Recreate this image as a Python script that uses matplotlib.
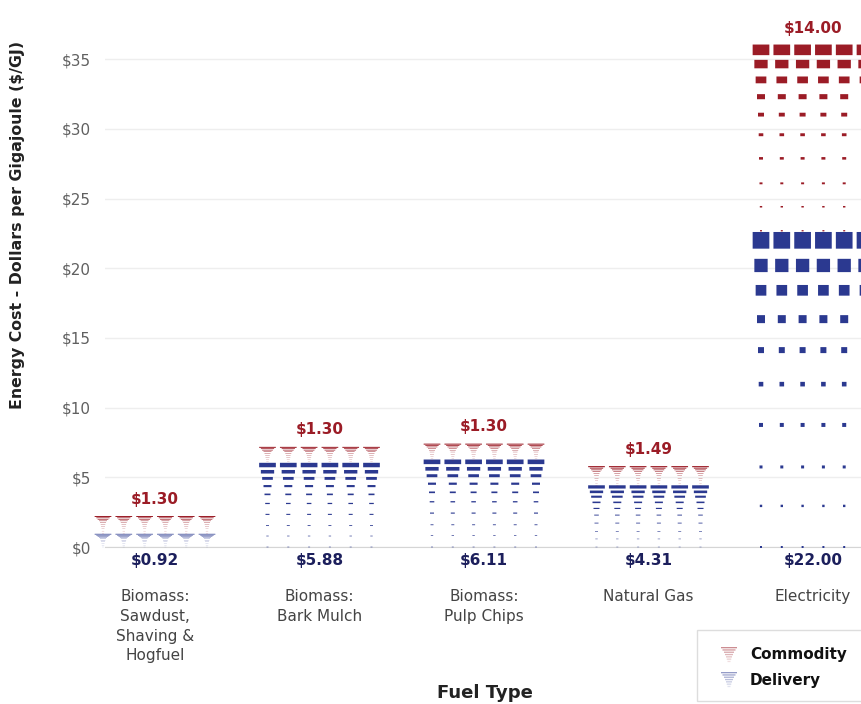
import matplotlib.pyplot as plt
from matplotlib.patches import Rectangle

# data
categories = ['Biomass:\nSawdust,\nShaving &\nHogfuel', 'Biomass:\nBark Mulch',
              'Biomass:\nPulp Chips', 'Natural Gas', 'Electricity']
delivery = [0.92, 5.88, 6.11, 4.31, 22.00]
commodity = [1.30, 1.30, 1.30, 1.49, 14.00]
yticks = [0, 5, 10, 15, 20, 25, 30, 35]

BLUE = '#2b3990'
RED = '#9b1c26'

plt.rcParams['font.family'] = 'DejaVu Sans'

W, H = 862, 704
PX_X = 164.5        # pixels per category
PX_Y = 13.94        # pixels per dollar
N_COLS = 6
COL_GAP = 20.8      # px between symbol columns
# pictograph rows, top to bottom: widths in px and position within the segment
row_w = [16.7, 13.3, 10.7, 8.0, 6.0, 4.6, 4.0, 3.0, 2.4, 2.0]
pos_del = [1.0, 0.918, 0.837, 0.743, 0.642, 0.531, 0.398, 0.261, 0.134, 0.0]
pos_com = [0.976, 0.903, 0.822, 0.736, 0.644, 0.541, 0.42, 0.292, 0.172, 0.049]

fig = plt.figure(figsize=(W / 100, H / 100), dpi=100)
ax_w = 790
ax = fig.add_axes([105 / W, (H - 547) / H, ax_w / W, 509 / H])
x_lo = -50 / PX_X
ax.set_xlim(x_lo, x_lo + ax_w / PX_X)
ax.set_ylim(0, 509 / PX_Y)


def draw_segment(xc, y0, y1, color, positions):
    seg_px = (y1 - y0) * PX_Y
    for w, f in zip(row_w, positions):
        h = w * seg_px / 307
        yc = y0 + f * (y1 - y0)
        for k in range(N_COLS):
            cx = xc + (k - (N_COLS - 1) / 2) * COL_GAP / PX_X
            ax.add_patch(Rectangle((cx - w / 2 / PX_X, yc - h / 2 / PX_Y),
                                   w / PX_X, h / PX_Y, facecolor=color,
                                   lw=0, zorder=3, clip_on=False, snap=False))


for i, (d, c) in enumerate(zip(delivery, commodity)):
    draw_segment(i, 0, d, BLUE, pos_del)
    draw_segment(i, d, d + c, RED, pos_com)
    ax.text(i, -14 / PX_Y, '$%.2f' % d, ha='center', va='center',
            fontsize=11, fontweight='bold', color='#1c1f5c', clip_on=False)
    ax.text(i, d + c + 17 / PX_Y, '$%.2f' % c, ha='center', va='center',
            fontsize=11, fontweight='bold', color=RED, clip_on=False)
    ax.text(i, -42 / PX_Y, categories[i], ha='center', va='top',
            fontsize=11, color='#444444', linespacing=1.4, clip_on=False)

ax.set_yticks(yticks)
ax.set_yticklabels(['$%d' % v for v in yticks], fontsize=11, color='#606060')
ax.set_xticks([])
ax.tick_params(axis='y', length=0, pad=10)
ax.grid(axis='y', color='#eeeeee', lw=1, zorder=0)
for s in ['top', 'right', 'left']:
    ax.spines[s].set_visible(False)
ax.spines['bottom'].set_color('#d5d5d5')
ax.set_axisbelow(True)

fig.text(18 / W, 1 - 225 / H, 'Energy Cost - Dollars per Gigajoule ($/GJ)',
         rotation=90, ha='center', va='center', fontsize=11.3,
         fontweight='bold', color='#222222')
fig.text(485 / W, 1 - 693 / H, 'Fuel Type', ha='center', va='center',
         fontsize=13, fontweight='bold', color='#222222')

# legend drawn in pixel space
ov = fig.add_axes([0, 0, 1, 1], zorder=5)
ov.set_xlim(0, W)
ov.set_ylim(H, 0)
ov.axis('off')
ov.add_patch(Rectangle((697, 630), 180, 71, facecolor='white',
                       edgecolor='#dddddd', lw=1))
legend_items = [('Commodity', RED, 655), ('Delivery', BLUE, 680)]
for label, color, yc in legend_items:
    icon_w = [16, 13, 10, 8, 6, 4.5, 3]
    for j, w in enumerate(icon_w):
        ov.add_patch(Rectangle((729 - w / 2, yc - 8 + j * 2.3), w, 1.3,
                               facecolor=color, alpha=0.5 - j * 0.06, lw=0,
                               snap=False))
    ov.text(750, yc, label, ha='left', va='center', fontsize=11,
            fontweight='bold', color='#111111')

fig.savefig('out.png', dpi=100)
